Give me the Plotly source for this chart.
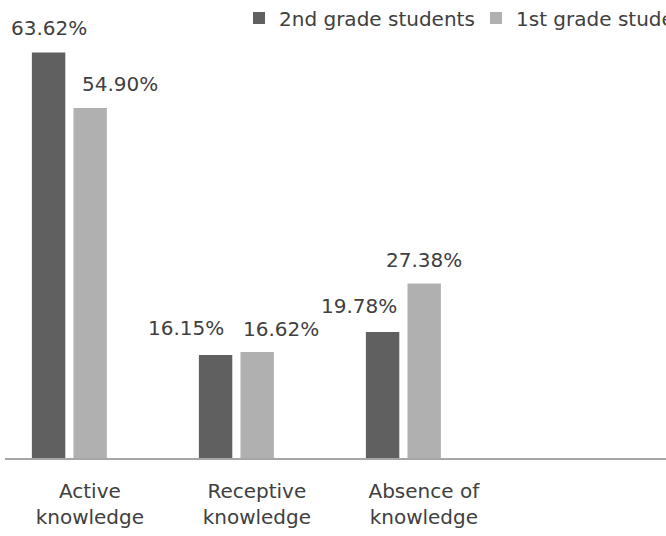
import plotly.graph_objects as go

categories = ["Active<br>knowledge", "Receptive<br>knowledge", "Absence of<br>knowledge"]
series_names = ["2nd grade students", "1st grade students"]
grade2_values = [63.62, 16.15, 19.78]
grade1_values = [54.90, 16.62, 27.38]
value_labels_2 = ["63.62%", "16.15%", "19.78%"]
value_labels_1 = ["54.90%", "16.62%", "27.38%"]

# styling
DARK = "#606060"
LIGHT = "#b0b0b0"
TEXT = "#404040"
FONT = "DejaVu Sans"
FS = 20
BAR_W = 0.2
OFF_DARK = -0.222
OFF_LIGHT = 0.027
label_xshift_2 = [0, -30, -24]
label_xshift_1 = [30, 24, 0]
label_center_above_2 = [23.5, 26, 25]
label_center_above_1 = [23, 22, 22.5]

xpos = list(range(len(categories)))

fig = go.Figure()
fig.add_trace(go.Bar(x=xpos, y=grade2_values, name=series_names[0],
                     marker=dict(color=DARK, line=dict(width=0)),
                     width=BAR_W, offset=OFF_DARK, hoverinfo="skip"))
fig.add_trace(go.Bar(x=xpos, y=grade1_values, name=series_names[1],
                     marker=dict(color=LIGHT, line=dict(width=0)),
                     width=BAR_W, offset=OFF_LIGHT, hoverinfo="skip"))

for i in xpos:
    fig.add_annotation(x=i + OFF_DARK + BAR_W / 2, y=grade2_values[i], text=value_labels_2[i],
                       showarrow=False, xanchor="center", yanchor="bottom",
                       xshift=label_xshift_2[i], yshift=label_center_above_2[i] - 13,
                       font=dict(family=FONT, size=FS, color=TEXT))
    fig.add_annotation(x=i + OFF_LIGHT + BAR_W / 2, y=grade1_values[i], text=value_labels_1[i],
                       showarrow=False, xanchor="center", yanchor="bottom",
                       xshift=label_xshift_1[i], yshift=label_center_above_1[i] - 13,
                       font=dict(family=FONT, size=FS, color=TEXT))

fig.update_layout(
    width=666, height=536,
    margin=dict(l=5, r=0, t=0, b=78, autoexpand=False),
    paper_bgcolor="white", plot_bgcolor="white",
    barmode="group",
    font=dict(family=FONT, size=FS, color=TEXT),
    showlegend=True,
    legend=dict(orientation="h", x=(239 - 5) / 661, xanchor="left",
                y=1 - 18 / 458, yanchor="middle",
                font=dict(family=FONT, size=FS, color=TEXT),
                bgcolor="rgba(0,0,0,0)", entrywidth=192, itemwidth=30,
                traceorder="normal"),
    xaxis=dict(range=[-0.383, 3.575], tickvals=[p + 0.125 for p in xpos], ticktext=categories,
               showline=True, linecolor="#a6a6a6", linewidth=1.5, showgrid=False,
               zeroline=False, ticks="outside", ticklen=14, tickcolor="rgba(0,0,0,0)",
               tickfont=dict(family=FONT, size=FS, color=TEXT), fixedrange=True),
    yaxis=dict(range=[0, 71.84], visible=False, showgrid=False, zeroline=False, fixedrange=True),
)

fig.write_html("out.html")
